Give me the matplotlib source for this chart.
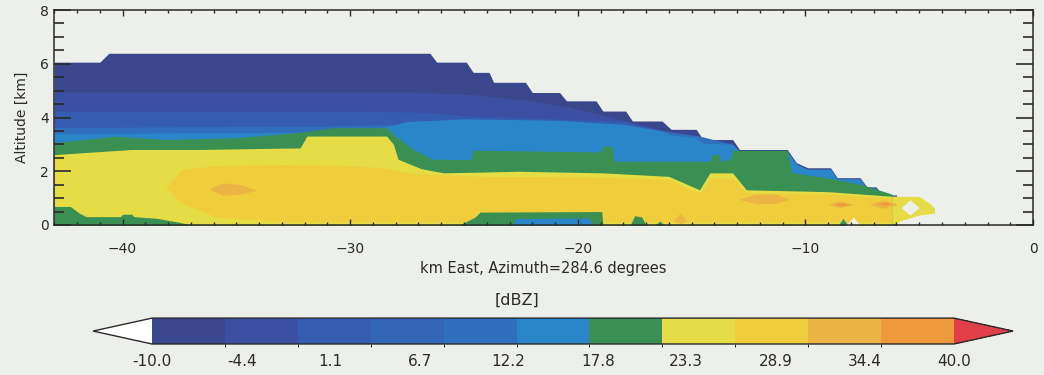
import matplotlib
matplotlib.use('Agg')
import matplotlib.pyplot as plt
from matplotlib.colors import ListedColormap, BoundaryNorm
from matplotlib.cm import ScalarMappable
from matplotlib.ticker import MultipleLocator

# colour table / levels (dBZ)
levels = [-10.0, -5.45, -0.91, 3.64, 8.18, 12.73, 17.27, 21.82, 26.36, 30.91, 35.45, 40.0]
band_colors = ['#3b478c', '#3b50a2', '#355cb0', '#3265b6', '#306fbe', '#2a86c9',
               '#3a8f52', '#e6dc45', '#f0cd3c', '#ebb545', '#ee9a3c']
cbar_ticks = [-10.0, -4.4, 1.1, 6.7, 12.2, 17.8, 23.3, 28.9, 34.4, 40.0]

# echo top (km) along the section
echo_x = [-43, -41.0, -40.6, -26.5, -26.2, -24.9, -24.6, -23.9, -23.7, -22.3, -22.0, -20.8,
          -20.5, -19.2, -18.9, -17.9, -17.6, -16.3, -15.9, -14.8, -14.5, -13.2, -12.9, -10.8,
          -10.4, -9.9, -8.9, -8.6, -7.6, -7.3, -6.9, -6.6, -6.0]
echo_top = [6.06, 6.06, 6.39, 6.39, 6.06, 6.06, 5.68, 5.68, 5.31, 5.31, 4.93, 4.93,
            4.62, 4.62, 4.24, 4.24, 3.87, 3.87, 3.56, 3.56, 3.18, 3.18, 2.81, 2.81,
            2.32, 2.13, 2.13, 1.76, 1.76, 1.42, 1.42, 1.12, 1.12]

# upper contour bands (tops, down to the ground)
band2_x = [-43, -27, -24.6, -22.3, -20.5, -18.9, -17.6, -16.3]
band2_top = [4.94, 4.94, 4.85, 4.65, 4.4, 4.1, 3.8, 3.56]
band3_x = [-43, -30, -27, -24.6, -21, -19, -17.9, -16.3, -15.9, -14.8, -14.5, -13.2]
band3_top = [4.23, 4.23, 4.2, 4.05, 3.95, 3.9, 3.85, 3.5, 3.4, 3.3, 3.1, 3.05]
band5_x = [-43, -31, -29, -27, -24, -20, -17, -14.6, -13.2]
band5_top = [3.63, 3.68, 3.72, 3.75, 3.8, 3.75, 3.6, 3.3, 3.0]
band6_x = [-43, -32, -29, -27.5, -25, -21, -18, -16.3, -15.9, -14.8, -14.5, -13.2, -12.9,
           -10.8, -10.4, -9.9, -8.9, -8.6, -7.6, -7.3, -6.9, -6.6, -6.0]
band6_top = [3.4, 3.45, 3.55, 3.85, 3.95, 3.9, 3.75, 3.5, 3.35, 3.25, 3.05, 3.0, 2.75,
             2.75, 2.27, 2.08, 2.08, 1.72, 1.72, 1.38, 1.38, 1.08, 1.08]
green_x = [-43, -40.3, -38.1, -35, -32.2, -30.8, -28.4, -28.0, -27.2, -26.4, -24.7, -24.6,
           -19.0, -18.9, -18.5, -18.4, -14.2, -14.1, -13.8, -13.7, -13.3, -13.2, -10.8,
           -10.6, -9.0, -7.5, -6.2]
green_top = [3.07, 3.3, 3.18, 3.25, 3.45, 3.62, 3.62, 3.3, 2.8, 2.45, 2.43, 2.78,
             2.72, 2.93, 2.93, 2.37, 2.37, 2.62, 2.62, 2.37, 2.45, 2.78, 2.78,
             1.95, 1.75, 1.5, 1.15]
yellow_x = [-43, -39.6, -36.6, -32.2, -31.9, -28.4, -28.1, -27.9, -26.9, -25.9, -22.6,
            -18.9, -16.0, -14.65, -14.2, -13.2, -12.6, -9.0, -6.2]
yellow_top = [2.62, 2.81, 2.81, 2.87, 3.31, 3.31, 3.0, 2.45, 2.1, 1.94, 2.0,
              1.94, 1.81, 1.31, 1.94, 1.94, 1.31, 1.24, 1.07]
tail_x = [-6.2, -5.85, -5.0, -4.55, -4.33]
tail_top = [1.07, 1.07, 1.06, 0.81, 0.63]
tail_bot = [0.0, 0.15, 0.37, 0.42, 0.45]

# yellow-orange core
core_x = [-38.1, -37.4, -35.9, -33.0, -30.0, -28.6, -27.1, -23.9, -21, -18.9, -16.0,
          -14.9, -14.6, -14.2, -13.2, -12.6, -9.0, -6.2]
core_top = [1.4, 2.06, 2.21, 2.25, 2.21, 2.13, 1.9, 1.8, 1.8, 1.78, 1.7,
            1.25, 1.2, 1.75, 1.75, 1.2, 1.15, 1.0]
core_bot = [1.4, 0.81, 0.3, 0.12, 0.12, 0.12, 0.12, 0.12, 0.12, 0.12, 0.12,
            0.12, 0.12, 0.12, 0.12, 0.12, 0.12, 0.12]

# light orange / orange cells: (x, top, bottom)
cells_33 = [([-36.2, -35.6, -34.8, -34.1], [1.35, 1.57, 1.5, 1.3], [1.35, 1.1, 1.15, 1.3]),
            ([-12.9, -12.2, -11.3, -10.7], [0.95, 1.15, 1.15, 0.95], [0.95, 0.8, 0.8, 0.95]),
            ([-9.0, -8.5, -7.9], [0.77, 0.9, 0.77], [0.77, 0.65, 0.77]),
            ([-7.2, -6.6, -6.0], [0.77, 0.92, 0.8], [0.77, 0.62, 0.75]),
            ([-15.8, -15.5, -15.2], [0.15, 0.45, 0.15], [0.15, 0.05, 0.15])]
cells_38 = [([-8.8, -8.4, -8.0], [0.77, 0.83, 0.77], [0.77, 0.71, 0.77]),
            ([-6.9, -6.5, -6.2], [0.8, 0.86, 0.8], [0.8, 0.72, 0.8])]

# low-level weaker echo near the ground
lowgreen_x = [-43, -42.3, -41.9, -41.6, -40.1, -40.0, -39.6, -39.5, -38.5, -37.5, -37.0]
lowgreen_top = [0.69, 0.69, 0.44, 0.31, 0.31, 0.4, 0.4, 0.31, 0.25, 0.1, 0.0]
lowgreen2_x = [-25.2, -24.5, -24.3, -19.1, -18.95, -18.9]
lowgreen2_top = [0.0, 0.3, 0.48, 0.5, 0.5, 0.0]
lowblue_x = [-22.9, -22.7, -19.5, -19.35]
lowblue_top = [0.0, 0.24, 0.26, 0.0]
spots_x = [[-17.7, -17.5, -17.2, -17.0], [-16.6, -16.4, -16.2], [-8.55, -8.35, -8.15]]
spots_top = [[0.0, 0.35, 0.3, 0.0], [0.0, 0.15, 0.0], [0.0, 0.25, 0.0]]

# holes with no echo
holes = [([-5.8, -5.4, -5.0], [0.65, 0.94, 0.65], [0.65, 0.37, 0.65]),
         ([-8.2, -7.9, -7.6], [0.0, 0.3, 0.0], [0.0, 0.0, 0.0])]

bg = '#edefea'
ink = '#2a2a2a'

cmap = ListedColormap(band_colors)
cmap.set_under('white')
cmap.set_over('#e0404a')
norm = BoundaryNorm(levels, cmap.N)


def col(v):
    return cmap(norm(v))


fig = plt.figure(figsize=(10.44, 3.75), dpi=100, facecolor=bg)
ax = fig.add_axes([0.052, 0.4, 0.9375, 0.5733], facecolor=bg)

ax.fill_between(echo_x, 0, echo_top, color=col(-7), lw=0)
ax.fill_between(band2_x, 0, band2_top, color=col(-3), lw=0)
ax.fill_between(band3_x, 0, band3_top, color=col(1.5), lw=0)
ax.fill_between(band5_x, 0, band5_top, color=col(10), lw=0)
ax.fill_between(band6_x, 0, band6_top, color=col(15), lw=0)
ax.fill_between(green_x, 0, green_top, color=col(20), lw=0)
ax.fill_between(yellow_x, 0, yellow_top, color=col(24), lw=0)
ax.fill_between(tail_x, tail_bot, tail_top, color=col(24), lw=0)
ax.fill_between(core_x, core_bot, core_top, color=col(28.5), lw=0)
for x, t, b in cells_33:
    ax.fill_between(x, b, t, color=col(33), lw=0)
for x, t, b in cells_38:
    ax.fill_between(x, b, t, color=col(38), lw=0)
ax.fill_between(lowgreen_x, 0, lowgreen_top, color=col(20), lw=0)
ax.fill_between(lowgreen2_x, 0, lowgreen2_top, color=col(20), lw=0)
ax.fill_between(lowblue_x, 0, lowblue_top, color=col(15), lw=0)
for x, t in zip(spots_x, spots_top):
    ax.fill_between(x, 0, t, color=col(20), lw=0)
for x, t, b in holes:
    ax.fill_between(x, b, t, color=bg, lw=0)

ax.set_xlim(-43, 0)
ax.set_ylim(0, 8)
ax.set_xticks([-40, -30, -20, -10, 0])
ax.set_yticks([0, 2, 4, 6, 8])
ax.xaxis.set_minor_locator(MultipleLocator(1))
ax.yaxis.set_minor_locator(MultipleLocator(0.5))
ax.tick_params(axis='x', which='major', direction='in', length=4.5, width=1, top=True,
               pad=12, labelsize=10, colors=ink)
ax.tick_params(axis='x', which='minor', direction='in', length=2.2, width=1, top=True, colors=ink)
ax.tick_params(axis='y', which='major', direction='in', length=12, width=1.2, right=True,
               pad=4, labelsize=10, colors=ink)
ax.tick_params(axis='y', which='minor', direction='in', length=7, width=1.2, right=True, colors=ink)
for s in ax.spines.values():
    s.set_color(ink)
    s.set_linewidth(1.1)

ax.set_xlabel('km East, Azimuth=284.6 degrees', fontsize=10.5, color=ink, labelpad=4)
ax.set_ylabel('Altitude [km]', fontsize=10, color=ink, labelpad=8)

# colorbar axes include the two end triangles
cax = fig.add_axes([0.0891, 0.0827, 0.8812, 0.069])
sm = ScalarMappable(norm=norm, cmap=cmap)
cb = fig.colorbar(sm, cax=cax, orientation='horizontal', extend='both', extendfrac=0.0735,
                  drawedges=False)
cb.set_ticks(cbar_ticks)
cb.set_ticklabels(['%.1f' % t for t in cbar_ticks])
cb.ax.tick_params(length=0, pad=7, labelsize=11, colors=ink)
cb.outline.set_edgecolor(ink)
cb.outline.set_linewidth(1.0)
fig.text(0.495, 0.2, '[dBZ]', fontsize=11.5, color=ink, ha='center', va='center')

fig.savefig('out.png', dpi=100, facecolor=bg)
